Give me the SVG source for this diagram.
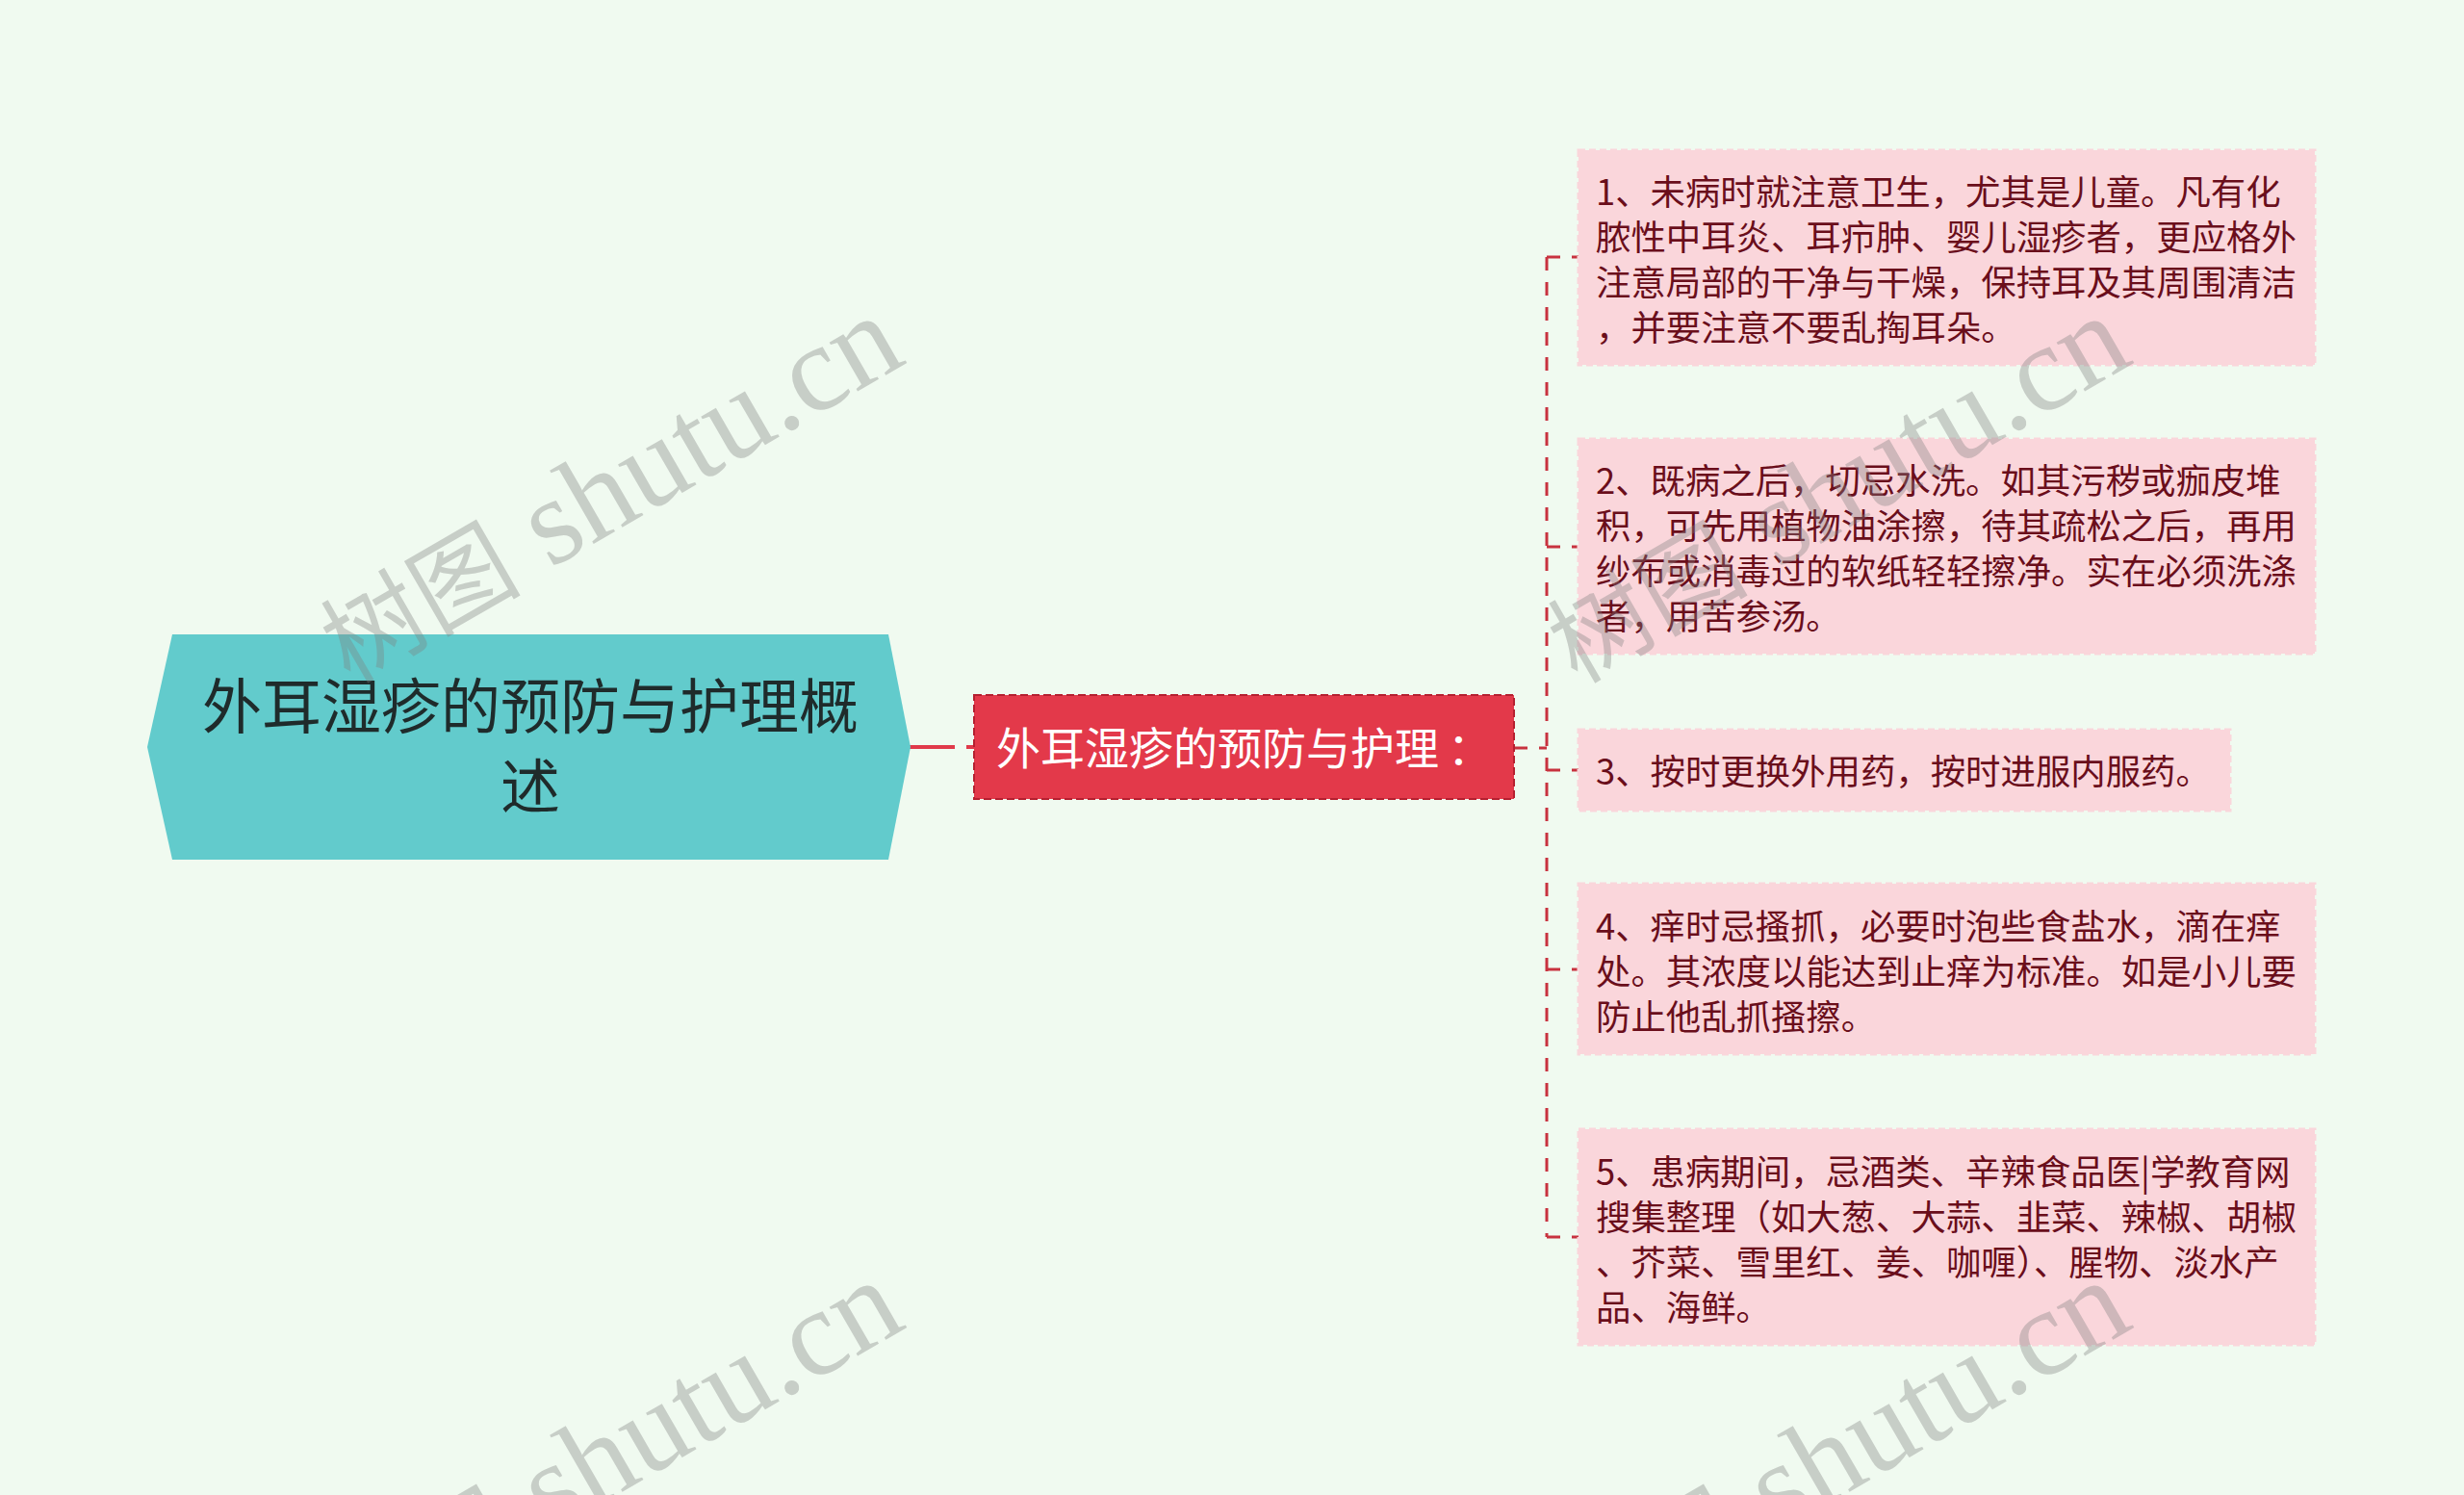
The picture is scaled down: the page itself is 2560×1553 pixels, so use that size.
<svg xmlns="http://www.w3.org/2000/svg" width="2560" height="1553" viewBox="0 0 2560 1553">
<style>
.bg{fill:#F0FAF0}
.cjk{font-family:"Noto Sans CJK SC","Noto Sans",sans-serif}
.root-shape{fill:#62CBCC}
.root-text{fill:#1F2B2B;font-size:62px}
.mid-shape{fill:#E3394A;stroke:#B52030;stroke-width:2;stroke-dasharray:8 4}
.mid-text{fill:#FFFFFF;font-size:46px}
.leaf-shape{fill:#FAD6DB;stroke:#FAD6DB;stroke-width:3;stroke-dasharray:7 4}
.leaf-text{fill:#6A0E1B;font-size:36.4px}
.conn{fill:none;stroke:#C8323F;stroke-width:3;stroke-dasharray:14 12}
.wm{font-family:"Liberation Serif","Noto Sans CJK SC",serif;font-size:128px;fill:#808080;fill-opacity:0.36}
.wmc{font-size:104px}
</style>
<rect class="bg" x="0" y="0" width="2560" height="1553"/>

<g id="connectors">
  <path d="M945,776 H1012" fill="none" stroke="#E0394A" stroke-width="4" stroke-dasharray="47 12 8 100"/>
  <path class="conn" d="M1573,777 H1607"/>
  <path class="conn" d="M1607,267 V1285"/>
  <path class="conn" d="M1607,267 H1640"/>
  <path class="conn" d="M1607,568 H1640"/>
  <path class="conn" d="M1607,800 H1640"/>
  <path class="conn" d="M1607,1007 H1640"/>
  <path class="conn" d="M1607,1285 H1640"/>
</g>

<g id="root">
  <polygon class="root-shape" points="153,776 179,659 923,659 946,776 923,893 179,893"/>
  <text class="cjk root-text" text-anchor="middle" x="551" y="757">外耳湿疹的预防与护理概</text>
  <text class="cjk root-text" text-anchor="middle" x="551" y="840">述</text>
</g>

<g id="mid">
  <rect class="mid-shape" x="1012" y="722" width="561" height="108"/>
  <text class="cjk mid-text" x="1035" y="794">外耳湿疹的预防与护理<tspan dx="9">：</tspan></text>
</g>

<g id="leaf1">
  <rect class="leaf-shape" x="1640" y="156" width="765" height="223"/>
  <text class="cjk leaf-text" x="1658" y="213">1、未病时就注意卫生，尤其是儿童。凡有化</text>
  <text class="cjk leaf-text" x="1658" y="260">脓性中耳炎、耳疖肿、婴儿湿疹者，更应格外</text>
  <text class="cjk leaf-text" x="1658" y="307">注意局部的干净与干燥，保持耳及其周围清洁</text>
  <text class="cjk leaf-text" x="1658" y="354">，并要注意不要乱掏耳朵。</text>
</g>

<g id="leaf2">
  <rect class="leaf-shape" x="1640" y="456" width="765" height="223"/>
  <text class="cjk leaf-text" x="1658" y="513">2、既病之后，切忌水洗。如其污秽或痂皮堆</text>
  <text class="cjk leaf-text" x="1658" y="560">积，可先用植物油涂擦，待其疏松之后，再用</text>
  <text class="cjk leaf-text" x="1658" y="607">纱布或消毒过的软纸轻轻擦净。实在必须洗涤</text>
  <text class="cjk leaf-text" x="1658" y="654">者，用苦参汤。</text>
</g>

<g id="leaf3">
  <rect class="leaf-shape" x="1640" y="758" width="677" height="84"/>
  <text class="cjk leaf-text" x="1658" y="815">3、按时更换外用药，按时进服内服药。</text>
</g>

<g id="leaf4">
  <rect class="leaf-shape" x="1640" y="918" width="765" height="177"/>
  <text class="cjk leaf-text" x="1658" y="976">4、痒时忌搔抓，必要时泡些食盐水，滴在痒</text>
  <text class="cjk leaf-text" x="1658" y="1023">处。其浓度以能达到止痒为标准。如是小儿要</text>
  <text class="cjk leaf-text" x="1658" y="1070">防止他乱抓搔擦。</text>
</g>

<g id="leaf5">
  <rect class="leaf-shape" x="1640" y="1173" width="765" height="224"/>
  <text class="cjk leaf-text" x="1658" y="1231">5、患病期间，忌酒类、辛辣食品医|学教育网</text>
  <text class="cjk leaf-text" x="1658" y="1278">搜集整理（如大葱、大蒜、韭菜、辣椒、胡椒</text>
  <text class="cjk leaf-text" x="1658" y="1325">、芥菜、雪里红、姜、咖喱）、腥物、淡水产</text>
  <text class="cjk leaf-text" x="1658" y="1372">品、海鲜。</text>
</g>

<g id="watermarks">
  <text class="wm" text-anchor="end" transform="translate(944,376) rotate(-30)"><tspan class="wmc">树图</tspan> shutu.cn</text>
  <text class="wm" text-anchor="end" transform="translate(2219,376) rotate(-30)"><tspan class="wmc">树图</tspan> shutu.cn</text>
  <text class="wm" text-anchor="end" transform="translate(944,1378) rotate(-30)"><tspan class="wmc">树图</tspan> shutu.cn</text>
  <text class="wm" text-anchor="end" transform="translate(2219,1378) rotate(-30)"><tspan class="wmc">树图</tspan> shutu.cn</text>
</g>
</svg>
